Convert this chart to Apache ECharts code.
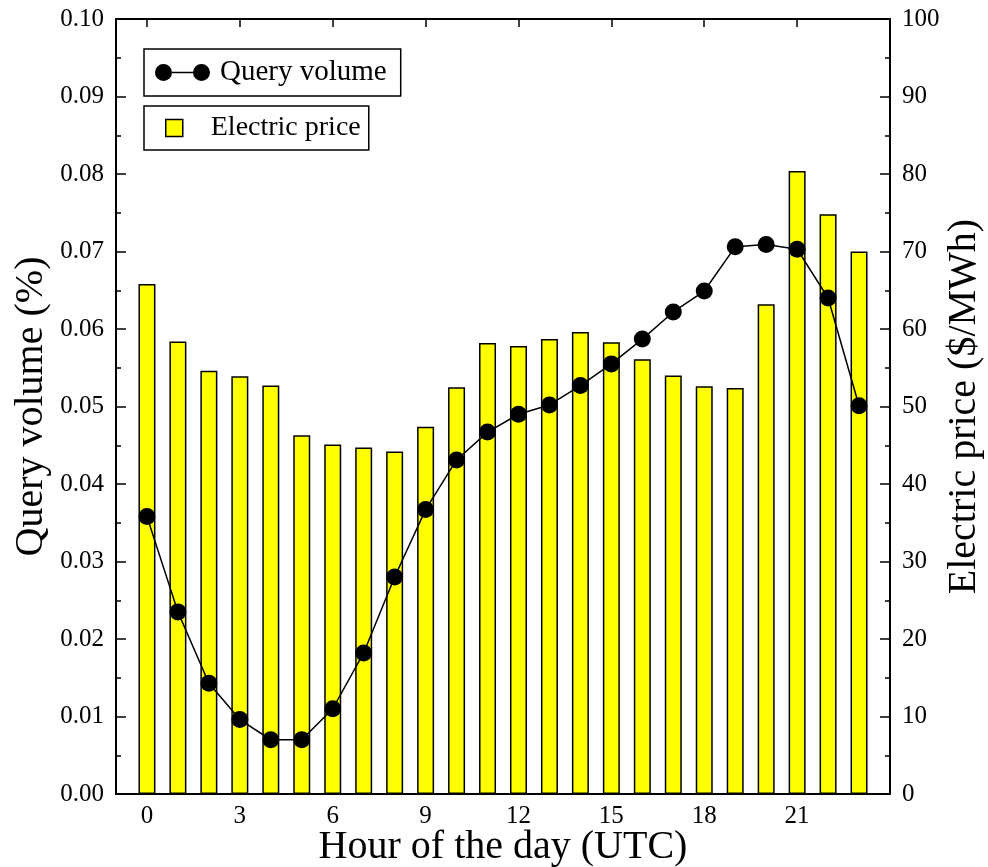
<!DOCTYPE html>
<html>
<head>
<meta charset="utf-8">
<script src="https://cdn.jsdelivr.net/npm/echarts@6/dist/echarts.min.js"></script>
<style>
  html, body { margin: 0; padding: 0; background: #fff; }
  #chart { width: 988px; height: 867px; }
</style>
</head>
<body>
<div id="chart"></div>
<script>
// hour of day (UTC)
const hours = [0, 1, 2, 3, 4, 5, 6, 7, 8, 9, 10, 11, 12, 13, 14, 15, 16, 17, 18, 19, 20, 21, 22, 23]
// query volume (%) - left axis
const queryVolume = [0.0358, 0.0235, 0.0143, 0.0096, 0.0070, 0.0070, 0.0110, 0.0182, 0.0280, 0.0367, 0.0431, 0.0467,
  0.0490, 0.0502, 0.0527, 0.0555, 0.0587, 0.0622, 0.0649, 0.0706, 0.0709, 0.0703, 0.0640, 0.0501]
// electric price ($/MWh) - right axis
const electricPrice = [65.8, 58.4, 54.6, 53.9, 52.7, 46.3, 45.1, 44.7, 44.2, 47.4, 52.5, 58.2,
  57.8, 58.7, 59.6, 58.3, 56.1, 54.0, 52.6, 52.4, 63.2, 80.4, 74.8, 70.0]
const hourTicks = [0, 3, 6, 9, 12, 15, 18, 21]

const FONT = 'Liberation Serif'
const chart = echarts.init(document.getElementById('chart'))

const axisLine = { show: true, onZero: false, lineStyle: { color: '#000', width: 2 } }

const option = {
  animation: false,
  grid: { left: 116, right: 98, top: 19, bottom: 73, outerBoundsMode: 'none', containLabel: false },
  legend: [
    {
      data: ['Query volume'],
      left: 144,
      top: 49,
      padding: [9, 14, 9, 11],
      borderColor: '#000',
      borderWidth: 1.5,
      itemWidth: 55,
      itemHeight: 17,
      icon: 'path://M0,8.5A8.5,8.5,0,1,1,17,8.5A8.5,8.5,0,1,1,0,8.5Z M17,7.75L38,7.75L38,9.25L17,9.25Z M38,8.5A8.5,8.5,0,1,1,55,8.5A8.5,8.5,0,1,1,38,8.5Z',
      textStyle: { fontFamily: FONT, fontSize: 29, color: '#000', padding: [0, 0, 0, 5] }
    },
    {
      data: ['Electric price'],
      left: 144,
      top: 106,
      padding: [8, 8, 8, 21],
      borderColor: '#000',
      borderWidth: 1.5,
      itemWidth: 17,
      itemHeight: 17,
      icon: 'rect',
      itemStyle: { color: '#ffff00', borderColor: '#000', borderWidth: 1.5 },
      textStyle: { fontFamily: FONT, fontSize: 28, color: '#000', padding: [0, 0, 0, 23] }
    }
  ],
  xAxis: [
    {
      type: 'value',
      position: 'bottom',
      min: -1,
      max: 24,
      name: 'Hour of the day (UTC)',
      nameLocation: 'middle',
      nameGap: 33,
      nameMoveOverlap: false,
      nameTextStyle: { fontFamily: FONT, fontSize: 40, color: '#000' },
      axisLine: axisLine,
      axisTick: { inside: true, length: 8, customValues: hourTicks, lineStyle: { color: '#000', width: 1.5 } },
      axisLabel: { customValues: hourTicks, margin: 10, fontFamily: FONT, fontSize: 25, color: '#000' },
      splitLine: { show: false }
    },
    {
      type: 'value',
      position: 'top',
      min: -1,
      max: 24,
      axisLine: axisLine,
      axisTick: { inside: true, length: 8, customValues: hourTicks, lineStyle: { color: '#000', width: 1.5 } },
      axisLabel: { show: false },
      splitLine: { show: false }
    }
  ],
  yAxis: [
    {
      type: 'value',
      position: 'left',
      min: 0,
      max: 0.1,
      interval: 0.01,
      name: 'Query volume (%)',
      nameLocation: 'middle',
      nameRotate: 90,
      nameGap: 65,
      nameMoveOverlap: false,
      nameTextStyle: { fontFamily: FONT, fontSize: 40, color: '#000' },
      axisLine: axisLine,
      axisTick: { inside: true, length: 10, lineStyle: { color: '#000', width: 1.5 } },
      minorTick: { show: true, splitNumber: 2, length: 5, lineStyle: { color: '#000', width: 1.5 } },
      axisLabel: {
        margin: 12, fontFamily: FONT, fontSize: 25, color: '#000',
        formatter: v => v.toFixed(2)
      },
      splitLine: { show: false }
    },
    {
      type: 'value',
      position: 'right',
      min: 0,
      max: 100,
      interval: 10,
      name: 'Electric price ($/MWh)',
      nameLocation: 'middle',
      nameRotate: 90,
      nameGap: 54,
      nameMoveOverlap: false,
      nameTextStyle: { fontFamily: FONT, fontSize: 40, color: '#000' },
      axisLine: axisLine,
      axisTick: { inside: true, length: 10, lineStyle: { color: '#000', width: 1.5 } },
      minorTick: { show: true, splitNumber: 2, length: 5, lineStyle: { color: '#000', width: 1.5 } },
      axisLabel: { margin: 12, fontFamily: FONT, fontSize: 25, color: '#000' },
      splitLine: { show: false }
    }
  ],
  series: [
    {
      name: 'Electric price',
      type: 'bar',
      xAxisIndex: 0,
      yAxisIndex: 1,
      barWidth: 17,
      z: 1,
      itemStyle: { color: '#ffff00', borderColor: '#000', borderWidth: 1.5 },
      data: hours.map((h, i) => [h, electricPrice[i]])
    },
    {
      name: 'Query volume',
      type: 'line',
      xAxisIndex: 0,
      yAxisIndex: 0,
      z: 3,
      symbol: 'circle',
      symbolSize: 17,
      color: '#000',
      lineStyle: { color: '#000', width: 1.5 },
      itemStyle: { color: '#000' },
      data: hours.map((h, i) => [h, queryVolume[i]])
    }
  ]
}

chart.setOption(option)
</script>
</body>
</html>
